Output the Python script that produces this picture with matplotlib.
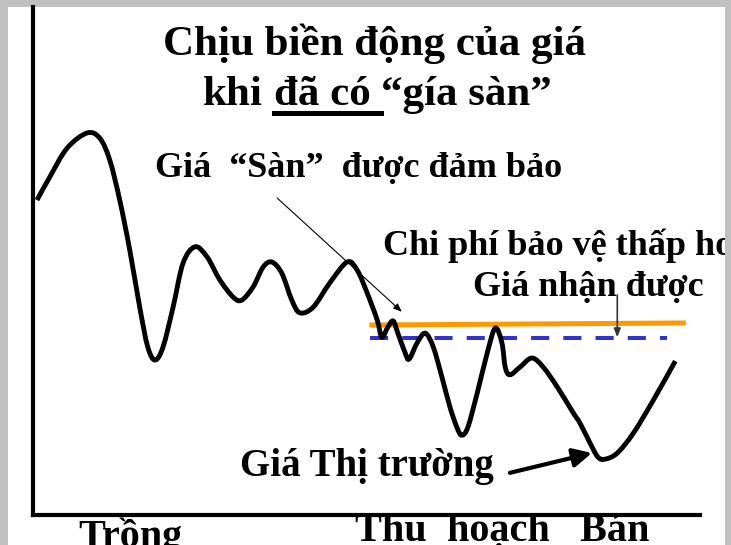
import matplotlib
matplotlib.use('Agg')
import matplotlib.pyplot as plt
from matplotlib.path import Path
from matplotlib.patches import PathPatch

W, H = 731, 545

# market price path (time 0-100 along the season, price index 0-100)
time = [0.6, 2.5, 5.1, 8.1, 10.0, 11.5, 13.0, 14.5, 16.0, 17.2, 18.3, 19.5,
        21.0, 22.5, 24.3, 26.1, 28.0, 30.0, 31.3, 33.0, 34.5, 35.8, 37.3, 38.8,
        40.0, 42.0, 44.5, 47.1, 48.6, 50.1, 51.6, 52.3, 53.2, 54.0, 54.7, 55.8,
        56.4, 57.6, 58.8, 60.0, 61.3, 62.5, 63.6, 64.3, 65.2, 66.6, 68.1, 69.3,
        70.3, 70.8, 71.5, 73.0, 74.8, 76.5, 78.6, 81.0, 82.0, 83.5, 84.7, 85.8,
        87.6, 90.0, 93.0, 96.3]
price = [62.0, 66.5, 72.2, 75.2, 74.2, 69.9, 62.0, 52.2, 40.9, 33.1, 30.5, 33.1,
         40.9, 49.6, 52.8, 50.8, 46.3, 42.9, 42.3, 44.9, 48.8, 49.8, 47.6, 42.3,
         39.8, 40.9, 45.7, 49.8, 48.2, 43.7, 38.4, 35.0, 37.0, 38.2, 35.8, 31.9,
         30.7, 33.9, 35.8, 33.1, 27.2, 21.3, 17.1, 15.7, 17.3, 24.0, 31.9, 36.8,
         33.9, 29.1, 27.6, 29.1, 30.9, 29.1, 25.2, 20.1, 18.1, 14.2, 11.4, 11.0,
         12.2, 16.1, 22.6, 30.3]

# guaranteed floor price and price actually received
floor_time = [50.8, 97.5]
floor_price = [37.4, 37.8]
received_time = [50.5, 95.1]
received_price = [34.8, 34.8]

title_1 = 'Chịu biền động của giá'
title_2 = ['khi', 'đã có', '“gía sàn”']
stage_labels = ['Trồng', 'Thu  hoạch   Bán']

SERIF = 'Liberation Serif'


def fig_xy(x, y):
    """pixel position (from top-left) -> figure fraction"""
    return x / W, 1 - y / H


def smooth_path(xs, ys):
    """Catmull-Rom curve through the points, drawn as cubic bezier segments"""
    pts = list(zip(xs, ys))
    n = len(pts)
    verts = [pts[0]]
    codes = [Path.MOVETO]
    for i in range(n - 1):
        p0 = pts[max(i - 1, 0)]
        p1 = pts[i]
        p2 = pts[i + 1]
        p3 = pts[min(i + 2, n - 1)]
        c1 = (p1[0] + (p2[0] - p0[0]) / 6, p1[1] + (p2[1] - p0[1]) / 6)
        c2 = (p2[0] - (p3[0] - p1[0]) / 6, p2[1] - (p3[1] - p1[1]) / 6)
        verts += [c1, c2, p2]
        codes += [Path.CURVE4] * 3
    return Path(verts, codes)


fig = plt.figure(figsize=(W / 100, H / 100), dpi=100, facecolor='#C0C0C0')

# white slide area
bg = fig.add_axes([8 / W, 0, 717 / W, 538 / H])
bg.set_facecolor('white')
bg.set_xticks([])
bg.set_yticks([])
for s in bg.spines.values():
    s.set_visible(False)

ax = fig.add_axes([33 / W, (H - 515) / H, 667 / W, 508 / H])
ax.set_facecolor('none')
ax.set_xlim(0, 100)
ax.set_ylim(0, 100)
ax.set_xticks([])
ax.set_yticks([])
ax.spines['top'].set_visible(False)
ax.spines['right'].set_visible(False)
ax.spines['left'].set_linewidth(3)
ax.spines['bottom'].set_linewidth(3)

ax.add_patch(PathPatch(smooth_path(time, price), fill=False, edgecolor='black',
                       lw=3.5, joinstyle='round', capstyle='butt', zorder=3))
ax.plot(floor_time, floor_price, color='#FF9900', lw=3.6, zorder=2)
ax.plot(received_time, received_price, color='#3333CC', lw=2.9,
        dashes=(4.5, 3.5), zorder=2)

# arrows
ax.annotate('', xy=(55.3, 40.0), xytext=(36.6, 62.4),
            arrowprops=dict(arrowstyle='-|>,head_length=0.5,head_width=0.2',
                            color='black', lw=0.8, mutation_scale=10,
                            shrinkA=0, shrinkB=0))
ax.annotate('', xy=(87.6, 35.0), xytext=(87.6, 43.3),
            arrowprops=dict(arrowstyle='-|>,head_length=0.5,head_width=0.2',
                            color='#333333', lw=1.2, mutation_scale=10,
                            shrinkA=0, shrinkB=0))
ax.annotate('', xy=(83.8, 12.2), xytext=(71.5, 8.3),
            arrowprops=dict(arrowstyle='-|>,head_length=0.8,head_width=0.4',
                            color='black', lw=3, mutation_scale=14,
                            shrinkA=0, shrinkB=0))

txt = dict(fontfamily=SERIF, fontweight='bold', color='black')

# title
fig.text(*fig_xy(375, 55), title_1, fontsize=31, ha='center', va='baseline', **txt)
renderer = fig.canvas.get_renderer()
x = 203
space = 0.25 * 31 / 0.72
for i, part in enumerate(title_2):
    t = fig.text(*fig_xy(x, 105), part, fontsize=31, ha='left', va='baseline', **txt)
    bb = t.get_window_extent(renderer)
    if i == 1:
        fig.add_artist(plt.Line2D([bb.x0 / W, (bb.x1 + space) / W],
                                  [1 - 113 / H] * 2, color='black', lw=3.6,
                                  transform=fig.transFigure))
    x += bb.width + space

fig.text(*fig_xy(155, 177), 'Giá  “Sàn”  được đảm bảo', fontsize=26,
         ha='left', va='baseline', **txt)
t = fig.text(*fig_xy(383, 255), 'Chi phí bảo vệ thấp hơn', fontsize=26,
             ha='left', va='baseline', **txt)
t.set_clip_path(bg.patch)
fig.text(*fig_xy(473, 296), 'Giá nhận được', fontsize=26,
         ha='left', va='baseline', **txt)
fig.text(*fig_xy(240, 476), 'Giá Thị trường', fontsize=28,
         ha='left', va='baseline', **txt)
fig.text(*fig_xy(78, 547), stage_labels[0], fontsize=29,
         ha='left', va='baseline', **txt)
fig.text(*fig_xy(355, 541), stage_labels[1], fontsize=29,
         ha='left', va='baseline', **txt)

fig.savefig('out.png', dpi=100, facecolor=fig.get_facecolor())
